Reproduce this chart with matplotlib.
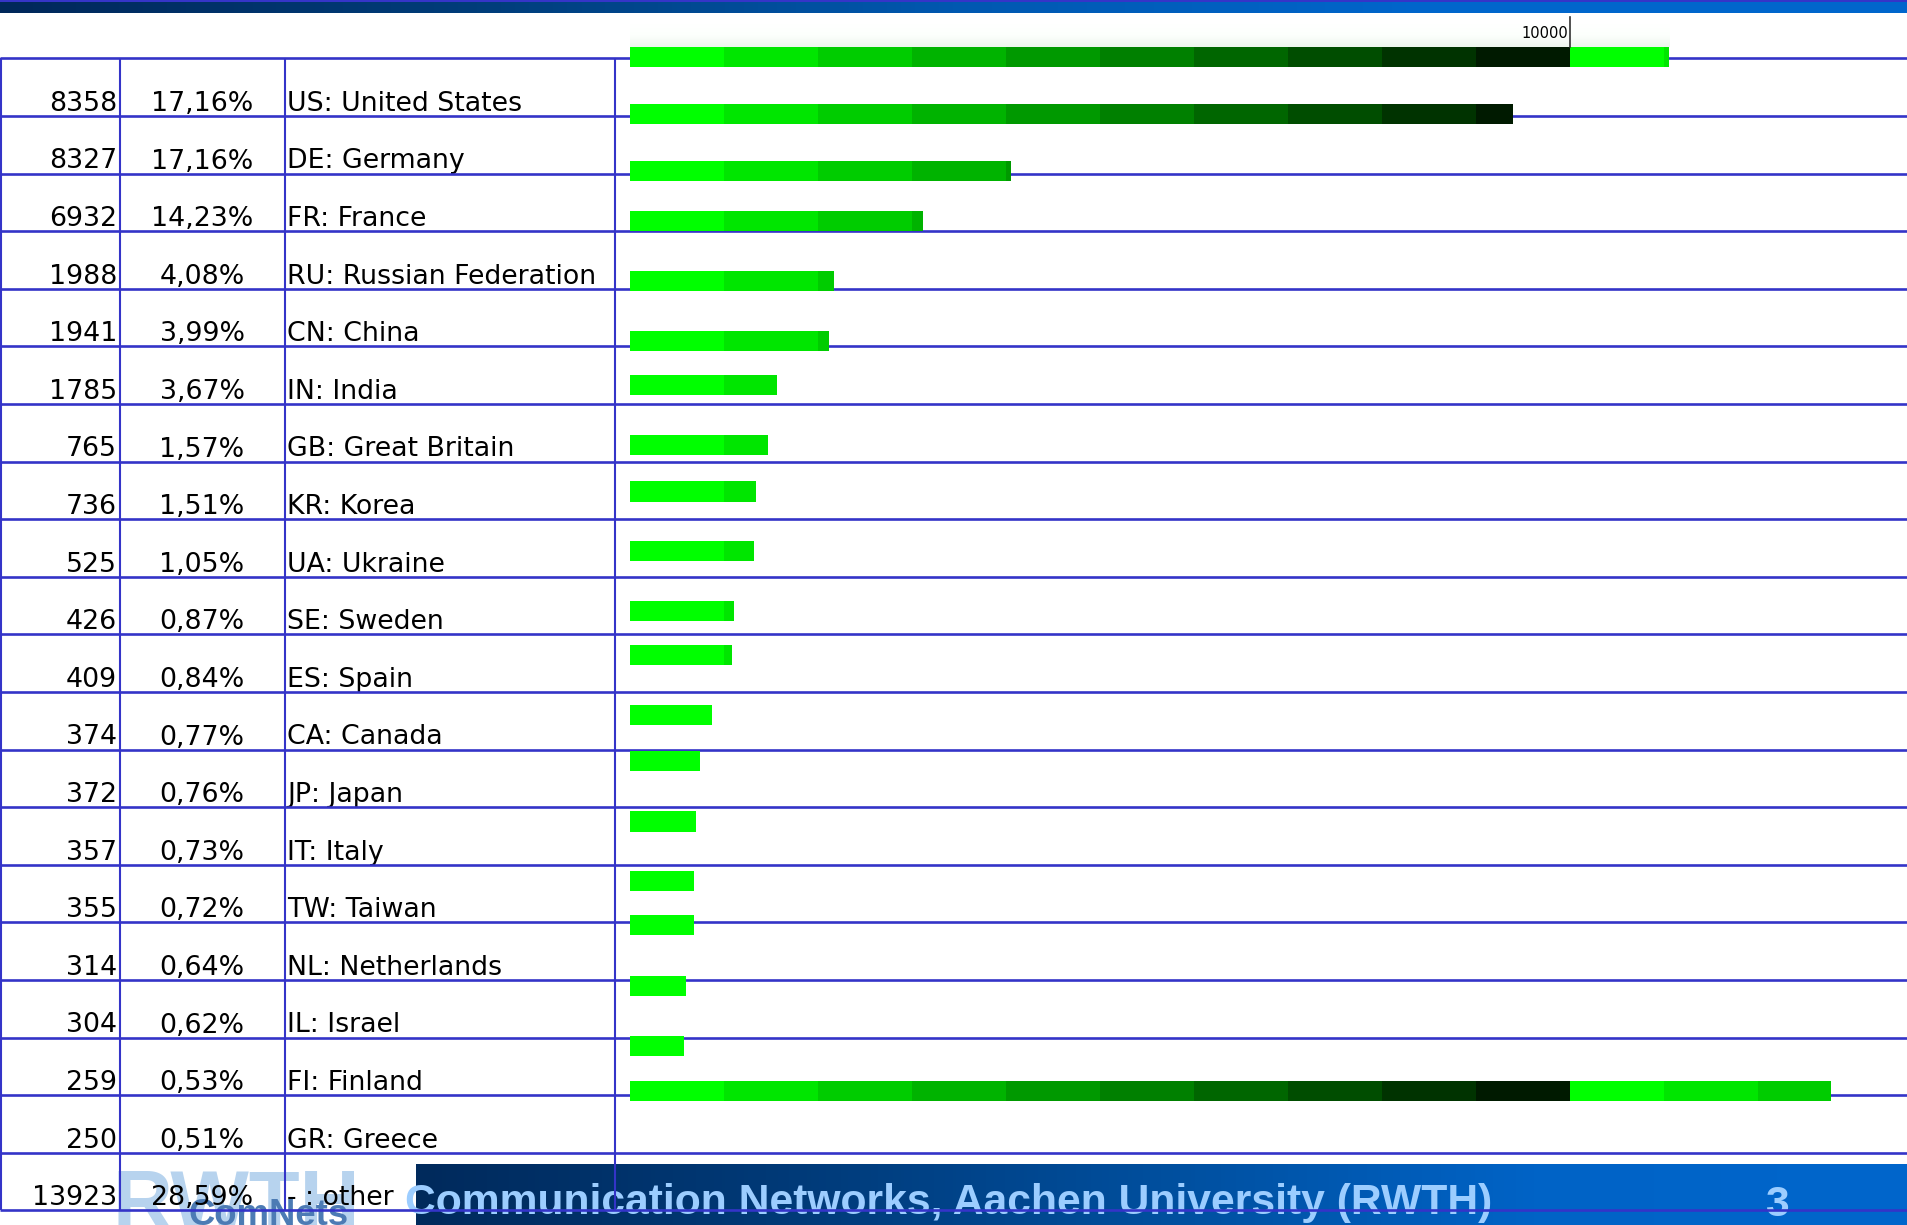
import numpy as np
import matplotlib
matplotlib.use('Agg')
import matplotlib.pyplot as plt
from matplotlib import font_manager
from matplotlib.colors import LinearSegmentedColormap
from matplotlib.patches import Rectangle

# table data (country statistics)
counts = [8358, 8327, 6932, 1988, 1941, 1785, 765, 736, 525, 426,
          409, 374, 372, 357, 355, 314, 304, 259, 250, 13923]
percents = [17.16, 17.16, 14.23, 4.08, 3.99, 3.67, 1.57, 1.51, 1.05, 0.87,
            0.84, 0.77, 0.76, 0.73, 0.72, 0.64, 0.62, 0.53, 0.51, 28.59]
countries = ['US: United States', 'DE: Germany', 'FR: France', 'RU: Russian Federation',
             'CN: China', 'IN: India', 'GB: Great Britain', 'KR: Korea', 'UA: Ukraine',
             'SE: Sweden', 'ES: Spain', 'CA: Canada', 'JP: Japan', 'IT: Italy',
             'TW: Taiwan', 'NL: Netherlands', 'IL: Israel', 'FI: Finland', 'GR: Greece',
             '- : other']

# bar lengths as they appear in the picture (scale mark at 10000)
bar_values = [11050, 9395, 4056, 3121, 2165, 2122, 1569, 1463, 1336, 1314,
              1102, 1081, 868, 741, 698, 677, 677, 593, 571, 12774]
scale_mark = 10000

footer_text = 'Communication Networks, Aachen University (RWTH)'
page_no = '3'

# layout (pixels)
W, H = 1907, 1225
ROW0, ROW_H = 58.3, 57.6
BAR_X0, PX_PER_UNIT = 630, 0.094
SEG = 1000
# vertical centres of the bars, in row units (they drift from the table rows)
bar_rows = [-0.02, 0.97, 1.96, 2.83, 3.87, 4.91, 5.67, 6.72, 7.52, 8.56,
            9.60, 10.36, 11.40, 12.20, 13.25, 14.29, 15.05, 16.11, 17.15, 17.93]
BAR_H = 0.35
LINE = '#3434c8'
shades = ['#00ff00', '#00e600', '#00cc00', '#00b300', '#009900',
          '#008000', '#006600', '#004d00', '#003300', '#001a00']


def pick(names):
    for n in names:
        try:
            font_manager.findfont(n, fallback_to_default=False)
            return n
        except Exception:
            pass
    return 'DejaVu Sans'


narrow = pick(['Liberation Sans Narrow', 'Arial Narrow', 'Liberation Sans'])

fig = plt.figure(figsize=(W / 100, H / 100), dpi=100)
ax = fig.add_axes([0, 0, 1, 1])
ax.set_xlim(0, W)
ax.set_ylim(H, 0)
ax.axis('off')
renderer = fig.canvas.get_renderer()


def fit_width(t, target):
    bb = t.get_window_extent(renderer)
    t.set_fontsize(t.get_fontsize() * target / bb.width)


# top band
blue = LinearSegmentedColormap.from_list('b', ['#00285a', '#003d7a', '#0058b0', '#0066cc', '#0066cc'])
grad = np.linspace(0, 1, 400).reshape(1, -1)
ax.imshow(grad, cmap=blue, extent=(0, W, 13, 2), aspect='auto', zorder=1)
ax.add_patch(Rectangle((0, 0), W, 2.4, color='#3535c8', lw=0, zorder=2))

# faint header shading behind scale bar
fade = LinearSegmentedColormap.from_list('f', ['#ffffff', '#ffffff', '#fcfffc', '#eef6ee'])
ax.imshow(np.linspace(0, 1, 50).reshape(-1, 1), cmap=fade,
          extent=(BAR_X0, 1670, 47.5, 14), aspect='auto', zorder=1)

# footer band
foot = LinearSegmentedColormap.from_list('ft', ['#002a5c', '#003a78', '#004f9e', '#0063c6', '#0066cc'])
ax.imshow(grad, cmap=foot, extent=(416, W, H, 1164), aspect='auto', zorder=1)

# logo
t = ax.text(112, 1229, 'RWTH', color='#b7d3ee', fontweight='bold', family=narrow,
            fontsize=60, va='baseline', ha='left', zorder=2)
fit_width(t, 248)
t = ax.text(189, 1225, 'ComNets', color='#4c7bb4', fontweight='bold', family=narrow,
            fontsize=30, va='baseline', ha='left', zorder=2)
fit_width(t, 160)

# footer texts
t = ax.text(405, 1214, footer_text, color='#9ccdff', fontweight='bold', family=narrow,
            fontsize=30, va='baseline', ha='left', zorder=3)
fit_width(t, 1088)
ax.text(1777, 1216, page_no, color='#9ccdff', fontweight='bold', family=narrow,
        fontsize=t.get_fontsize(), va='baseline', ha='center', zorder=3)

# table lines
ys = ROW0 + ROW_H * np.arange(len(counts) + 1)
ax.hlines(ys, 0, W, color=LINE, lw=1.9, zorder=5)
ax.vlines([1, 120, 285, 615], ys[0], ys[-1], color=LINE, lw=1.5, zorder=5)

# table texts
for i, (c, p, name) in enumerate(zip(counts, percents, countries)):
    yb = ys[i + 1] - 5
    kw = dict(fontsize=19.3, family='DejaVu Sans', color='black', va='baseline', zorder=4)
    ax.text(117, yb, str(c), ha='right', **kw)
    ax.text(202, yb, f'{p:.2f}'.replace('.', ',') + '%', ha='center', **kw)
    ax.text(287, yb, name, ha='left', **kw)

# bar axes: x in value units, y in row units
axb = fig.add_axes([BAR_X0 / W, 0, (W - BAR_X0) / W, 1])
axb.set_xlim(0, (W - BAR_X0) / PX_PER_UNIT)
axb.set_ylim((H - ROW0) / ROW_H, -ROW0 / ROW_H)
axb.axis('off')
axb.patch.set_alpha(0)

for v, r in zip(bar_values, bar_rows):
    n = int(np.ceil(v / SEG))
    lefts = np.arange(n) * SEG
    widths = np.minimum(SEG, v - lefts)
    cols = [shades[k % len(shades)] for k in range(n)]
    axb.barh([r] * n, widths, left=lefts, height=BAR_H, color=cols, linewidth=0)

# scale mark
r_top, r_bot = (17 - ROW0) / ROW_H, (47 - ROW0) / ROW_H
axb.plot([scale_mark, scale_mark], [r_top, r_bot], color='#333333', lw=1.2)
axb.text(scale_mark - 15, (38 - ROW0) / ROW_H, str(scale_mark), fontsize=10.5,
         ha='right', va='baseline', color='black')

fig.savefig('out.png', dpi=100)
